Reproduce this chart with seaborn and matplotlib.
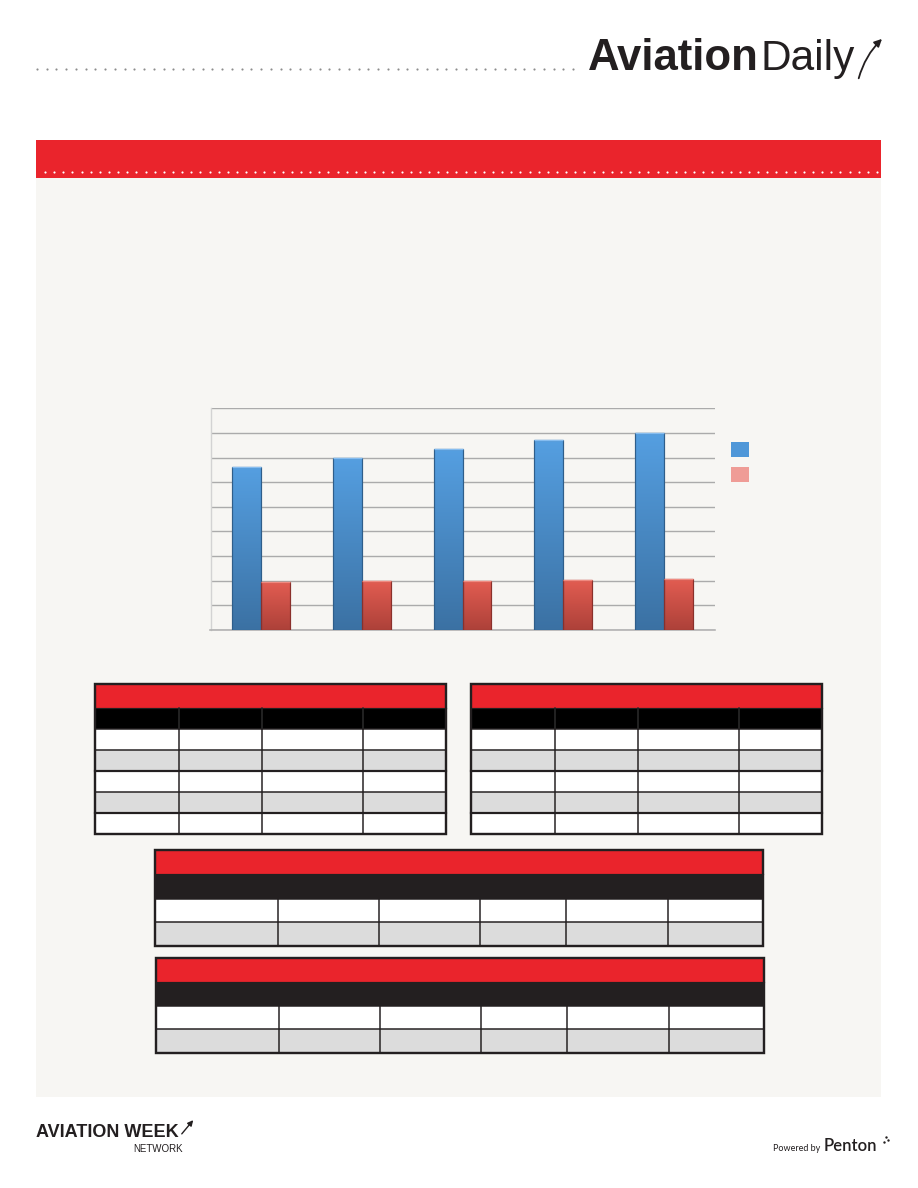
import numpy as np
import pandas as pd
import matplotlib
matplotlib.use('Agg')
from matplotlib import pyplot as plt
from matplotlib.patches import Rectangle
import matplotlib.colors as mcolors
import seaborn as sns

# chart data: the reference shows no labels, values read in gridline units
periods = ['P1', 'P2', 'P3', 'P4', 'P5']
series_names = ['Series 1', 'Series 2']
series_1 = [6.63, 6.99, 7.33, 7.70, 7.98]
series_2 = [1.96, 2.00, 2.00, 2.04, 2.08]
grid_ticks = [0, 1, 2, 3, 4, 5, 6, 7, 8, 9]

W, H = 918, 1188
PX = 0.72  # points per pixel at dpi 100

RED = '#ea242c'
PANEL = '#f7f6f3'
INK = '#231f20'
STRIPE = '#dcdcdc'
BLUE_MID, RED_MID = '#4889c6', '#cf5048'
BLUE_TOP, BLUE_BOT = '#559fe1', '#3b71a3'
RED_TOP, RED_BOT = '#e35d52', '#ad4139'
BLUE_EDGE, RED_EDGE = '#2f5e8a', '#8a302b'

plt.rcParams['font.family'] = ['Liberation Sans', 'DejaVu Sans']

fig = plt.figure(figsize=(W / 100, H / 100), dpi=100)
fig.patch.set_facecolor('white')
bg = fig.add_axes([0, 0, 1, 1])
bg.set_xlim(0, W)
bg.set_ylim(H, 0)
bg.axis('off')


def rect(x0, y0, x1, y1, fc, ec='none', lw=0, z=1):
    bg.add_patch(Rectangle((x0, y0), x1 - x0, y1 - y0, facecolor=fc,
                           edgecolor=ec, linewidth=lw * PX, zorder=z))


# header with logo
dots_x = np.linspace(37, 573, 56)
bg.scatter(dots_x, np.full_like(dots_x, 69), s=2.4, color='#8c8c8c', linewidths=0, zorder=2)
bg.text(588, 70, 'Aviation', fontsize=31.5, fontweight='bold', color=INK, ha='left', va='baseline')
bg.text(761, 70, 'Daily', fontsize=30.5, color=INK, ha='left', va='baseline')
bg.annotate('', xy=(884, 37), xytext=(858, 81),
            arrowprops=dict(arrowstyle='-|>', color=INK, lw=1.3, mutation_scale=11,
                            connectionstyle='arc3,rad=-0.15'))

# grey panel and red band
rect(36, 140, 881, 1097, PANEL)
rect(36, 140, 881, 178, RED, z=2)
wdots = np.linspace(45, 877, 92)
bg.scatter(wdots, np.full_like(wdots, 172), s=2.4, color='white', linewidths=0, zorder=3)

# legend squares (no text in the reference)
rect(731, 442, 749, 457, '#4f97d8', z=3)
rect(731, 467, 749, 482, '#ef9c96', z=3)


def table(x0, x1, y_red, y_black, rows, cols, black, black_divs):
    rect(x0, y_red, x1, y_black, RED, z=3)
    rect(x0, y_black, x1, rows[0], black, z=3)
    for i in range(len(rows) - 1):
        rect(x0, rows[i], x1, rows[i + 1], 'white' if i % 2 == 0 else STRIPE, z=3)
    if black_divs:
        for cx in cols:
            bg.plot([cx, cx], [y_black, rows[0]], color='#2c2c2c', lw=1.5 * PX, zorder=4)
    for cx in cols:
        bg.plot([cx, cx], [rows[0], rows[-1]], color=INK, lw=1.5 * PX, zorder=4)
    for i, ry in enumerate(rows[:-1]):
        bg.plot([x0, x1], [ry, ry], color=INK, lw=(2.2 if i % 2 == 0 and i else 1.5) * PX, zorder=4)
    bg.plot([x0, x1], [y_black, y_black], color=INK, lw=1.2 * PX, zorder=4)
    rect(x0, y_red, x1, rows[-1], 'none', ec=INK, lw=2.4, z=5)


top_rows = [728.5, 749.8, 770.8, 791.8, 812.8, 834]
table(94.5, 446, 683.5, 707.5, top_rows, [178.5, 262, 363], 'black', True)
table(470.5, 821.5, 683.5, 707.5, top_rows, [554.5, 638, 739], 'black', True)
table(154.5, 762.5, 850, 874, [898.5, 921.5, 945.5],
      [277.5, 378.5, 479.5, 565.5, 667.5], INK, False)
table(156, 763.5, 958, 981.5, [1005.5, 1029, 1052.5],
      [279, 380, 481, 567, 668.5], INK, False)

# footer
bg.text(36, 1137, 'AVIATION WEEK', fontsize=13, fontweight='bold', color=INK,
        ha='left', va='baseline')
bg.annotate('', xy=(195, 1118), xytext=(180, 1136),
            arrowprops=dict(arrowstyle='-|>', color=INK, lw=1.0, mutation_scale=8))
bg.text(183, 1152, 'NETWORK', fontsize=7, color=INK, ha='right', va='baseline')
bg.text(820, 1151, 'Powered by', fontsize=6.5, color=INK, ha='right', va='baseline',
        family=['Lato', 'DejaVu Sans'])
bg.text(824, 1151, 'Penton', fontsize=12, fontweight='semibold', color=INK, ha='left',
        va='baseline', family=['Lato', 'DejaVu Sans'])
bg.scatter([884, 888, 886], [1142, 1140, 1137], s=3, color=INK, linewidths=0)

# bar chart
ax = fig.add_axes([210.5 / W, 1 - 630 / H, (714.5 - 210.5) / W, (630 - 408.3) / H])
ax.set_facecolor(PANEL)

df = pd.DataFrame({
    'period': periods * 2,
    'series': [series_names[0]] * len(periods) + [series_names[1]] * len(periods),
    'value': series_1 + series_2,
})
sns.barplot(data=df, x='period', y='value', hue='series', palette=[BLUE_MID, RED_MID],
            width=0.575, gap=0, saturation=1, legend=False, ax=ax, zorder=3)

blue_rgb = mcolors.to_rgb(BLUE_MID)
for p in list(ax.patches):
    x0, y0, w, h = p.get_x(), p.get_y(), p.get_width(), p.get_height()
    is_blue = np.allclose(p.get_facecolor()[:3], blue_rgb, atol=0.02)
    top, bot = (BLUE_TOP, BLUE_BOT) if is_blue else (RED_TOP, RED_BOT)
    t = np.linspace(0, 1, 256)[:, None, None]
    img = np.array(mcolors.to_rgb(top)) * (1 - t) + np.array(mcolors.to_rgb(bot)) * t
    im = ax.imshow(img, extent=[x0, x0 + w, y0, y0 + h], origin='upper', aspect='auto',
                   zorder=4, interpolation='bilinear')
    im.set_clip_path(p)
    ax.add_patch(Rectangle((x0, y0), w, h, fill=False,
                           edgecolor=BLUE_EDGE if is_blue else RED_EDGE,
                           linewidth=1.2 * PX, zorder=5))
    ax.plot([x0, x0 + w], [y0 + h, y0 + h], color='#86bdf0' if is_blue else '#f08a80',
            lw=1.4 * PX, zorder=6, solid_capstyle='butt')

ax.set_xlim(-0.5, 4.5)
ax.set_ylim(0, 9)
ax.set_yticks(grid_ticks)
ax.grid(axis='y', color='#ababab', lw=1.4 * PX, zorder=0)
ax.grid(axis='x', visible=False)
ax.set_axisbelow(True)
ax.tick_params(length=0, labelleft=False, labelbottom=False)
ax.set_xlabel('')
ax.set_ylabel('')
for s in ['top', 'right']:
    ax.spines[s].set_visible(False)
ax.spines['left'].set_color('#d3d3d3')
ax.spines['left'].set_linewidth(1.4 * PX)
ax.spines['bottom'].set_color('#b0b0b0')
ax.spines['bottom'].set_linewidth(1.6 * PX)

fig.savefig('out.png', dpi=100, facecolor='white')
